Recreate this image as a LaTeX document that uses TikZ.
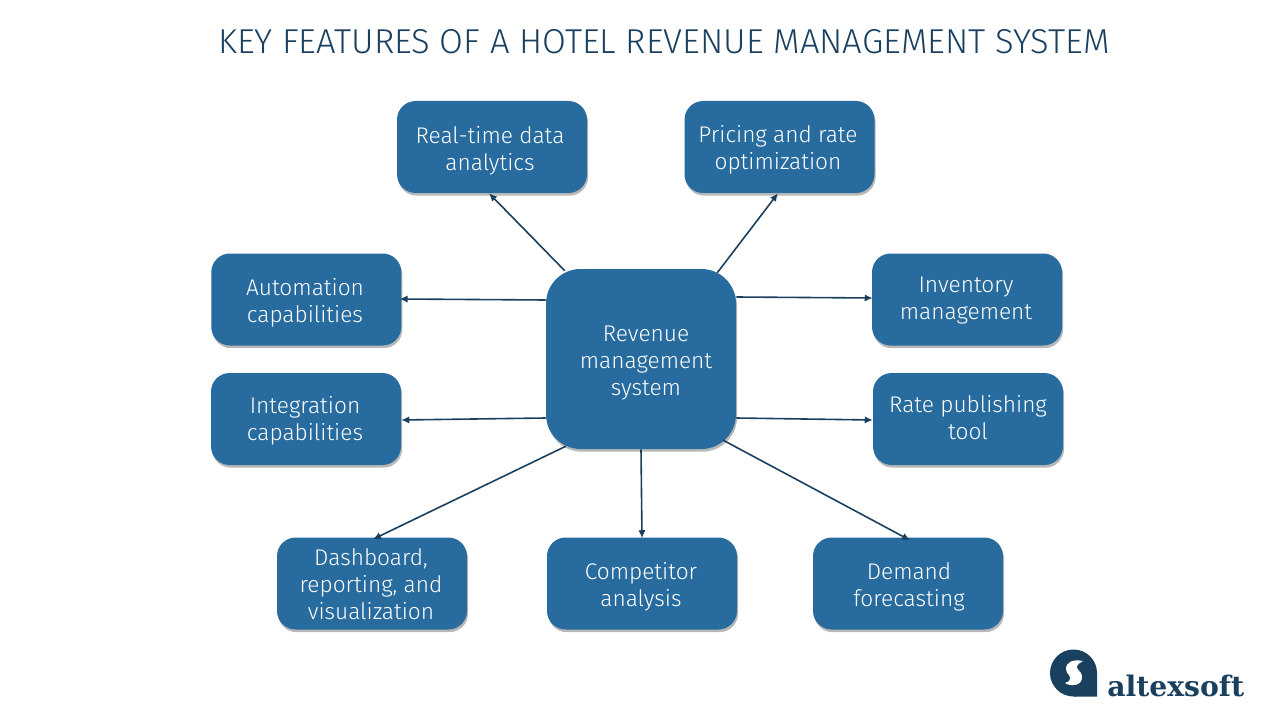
\documentclass[tikz,border=0pt]{standalone}
\usepackage{fontspec}
\usepackage{xcolor}
\setmainfont{Fira Sans Light}
\newfontfamily\logofont{DejaVu Serif}
\usetikzlibrary{shadows, arrows.meta}
\definecolor{boxblue}{HTML}{286B9E}
\definecolor{darkblue}{HTML}{1A4060}
\tikzset{
    feature/.style={draw=none, fill=boxblue, rounded corners=14pt, minimum width=142.5pt, minimum height=69pt, drop shadow={shadow xshift=0.8pt, shadow yshift=-2pt, opacity=0.4, fill=black!70}},
    boxtext/.style={text=white, align=center, inner sep=0pt, font=\fontsize{17}{20.25}\selectfont},
    link/.style={-{Latex[length=6pt, width=5.5pt]}, darkblue, line width=1.2pt}
}
\begin{document}
\begin{tikzpicture}[x=0.75pt, y=-0.75pt]
    \useasboundingbox (0,0) rectangle (1280,720);
    \node[darkblue, font=\fontsize{25.9}{27}\selectfont] (heading) at (664,41.5) {KEY FEATURES OF A HOTEL REVENUE MANAGEMENT SYSTEM};
    % center and the nine boxes
    \node[feature, rounded corners=26pt, minimum height=135pt] (rms) at (641,359) {};
    \node[boxtext] (rmstext) at (646,363) {Revenue\\management\\system};
    \foreach \name/\cx/\cy/\tx/\ty/\txt in {
        realtime/492/147/490/151/{Real-time data\\analytics},
        pricing/779.5/147/778/150/{Pricing and rate\\optimization},
        inventory/967/299.5/966/300.5/{Inventory\\management},
        publishing/968/419/968/418/{Rate publishing\\tool},
        demand/908/583.5/909/586.5/{Demand\\forecasting},
        competitor/642/583.5/641/586.5/{Competitor\\analysis},
        dashboard/372/583.5/371/584.5/{Dashboard,\\reporting, and\\visualization},
        integration/306/419/305/421/{Integration\\capabilities},
        automation/306.3/299.5/305/302.5/{Automation\\capabilities}}
    {
        \node[feature] (\name) at (\cx,\cy) {};
        \node[boxtext] (\name text) at (\tx,\ty) {\txt};
    }
    % arrows, shifted off the anchors
    \draw[link] ([shift={(19,2)}]rms.north west) -- ([shift={(-3,0)}]realtime.south);
    \draw[link] ([shift={(-19,4)}]rms.north east) -- ([shift={(-1.5,0)}]pricing.south);
    \draw[link] ([shift={(0,-62)}]rms.east) -- ([shift={(1,-1.5)}]inventory.west);
    \draw[link] ([shift={(0,59)}]rms.east) -- ([shift={(0,1)}]publishing.west);
    \draw[link] ([shift={(-13,-9)}]rms.south east) -- ([shift={(2,3)}]demand.north);
    \draw[link] (rms.south) -- ([shift={(0,1)}]competitor.north);
    \draw[link] ([shift={(20,-3)}]rms.south west) -- ([shift={(1,2)}]dashboard.north);
    \draw[link] ([shift={(0,59)}]rms.west) -- ([shift={(0,1)}]integration.east);
    \draw[link] ([shift={(0,-59)}]rms.west) -- ([shift={(-2,-0.5)}]automation.east);
    % logo
    \fill[darkblue] (1073.5,673) circle (23.5);
    \fill[darkblue] (1073.5,696.5) -- (1097,696.5) -- (1097,673) -- cycle;
    \fill[white] (1083,661) .. controls (1073,659) and (1066,662) .. (1066,669) .. controls (1066,674) and (1071,675) .. (1070,679) .. controls (1070,681) and (1068,682) .. (1065,683) .. controls (1071,687) and (1083,686) .. (1082,676) .. controls (1081.5,671) and (1076,670) .. (1077,666) .. controls (1077.5,664) and (1080,663) .. (1083,661) -- cycle;
    \node[darkblue, inner sep=0pt, anchor=base west, font=\logofont\bfseries\fontsize{21.2}{24}\selectfont] (logotext) at (1107,696) {altexsoft};
\end{tikzpicture}
\end{document}
